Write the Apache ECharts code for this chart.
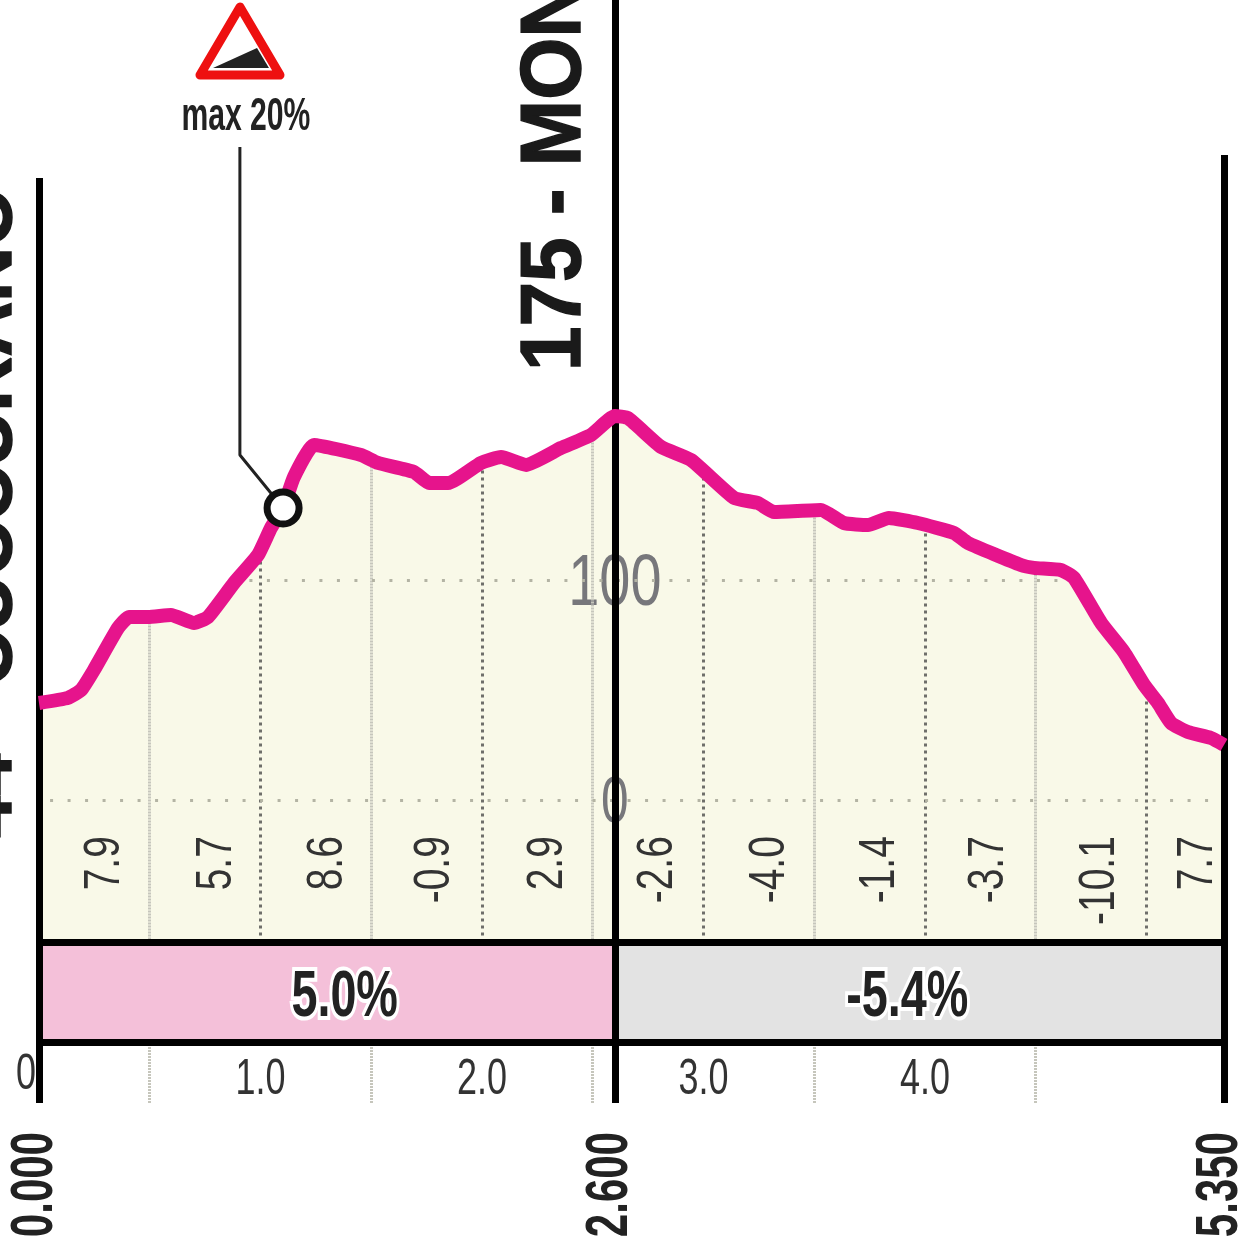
<!DOCTYPE html>
<html>
<head>
<meta charset="utf-8">
<style>
  html, body { margin: 0; background: #fff; }
  #main { width: 1243px; height: 1250px; }
</style>
<script src="https://cdn.jsdelivr.net/npm/echarts@6/dist/echarts.min.js"></script>
</head>
<body>
<div id="main"></div>
<script>
// profile (km, metres)
var profileKm = [0, 0.131, 0.19, 0.248, 0.357, 0.406, 0.492, 0.596, 0.7, 0.763, 0.88, 0.989, 1.047, 1.102, 1.151, 1.242, 1.454, 1.53, 1.693, 1.761, 1.847, 1.995, 2.086, 2.199, 2.357, 2.492, 2.6, 2.659, 2.808, 2.944, 3.138, 3.246, 3.318, 3.53, 3.634, 3.743, 3.837, 3.968, 4.131, 4.194, 4.433, 4.492, 4.614, 4.673, 4.795, 4.898, 4.989, 5.052, 5.111, 5.187, 5.291, 5.35];
var profileElev = [44.1, 46.4, 50, 59.1, 78.2, 83.2, 83.2, 84.1, 80.5, 83.2, 98.6, 111.4, 123.6, 132.7, 146.8, 161.4, 156.8, 153.2, 149.1, 144.1, 144.1, 153.2, 155.9, 152.3, 160, 165.9, 174.5, 173.6, 160.5, 154.5, 137.3, 135, 130.9, 131.8, 125.9, 125, 128.2, 125.9, 121.4, 116.8, 106.8, 105.5, 104.5, 100.9, 80.5, 67.3, 52.3, 44.1, 35, 30.9, 28.2, 25];

// gradient of each stretch, and where its label sits
var gradientKm = [0.289, 0.795, 1.296, 1.779, 2.289, 2.786, 3.291, 3.788, 4.28, 4.781, 5.224];
var gradientText = ["7.9", "5.7", "8.6", "-0.9", "2.9", "-2.6", "-4.0", "-1.4", "-3.7", "-10.1", "7.7"];

// average gradient bands
var bandFrom = [0, 2.6];
var bandTo = [2.6, 5.35];
var bandText = ["5.0%", "-5.4%"];
var bandLabelKm = [1.38, 3.92];
var bandColors = ["#f4c0d9", "#e3e3e3"];

// km ruler
var kmLabels = [1, 2, 3, 4];
var kmHalf = [0.5, 1.5, 2.5, 3.5, 4.5];
var kmWhole = [1, 2, 3, 4, 5];
var waypointKm = [0, 2.6, 5.35];
var waypointText = ["0.000", "2.600", "5.350"];
var waypointTop = [282.7, 363.6, 293.2];

// steepest point
var maxKm = [0.907, 0.907, 1.102];
var maxElev = [296.8, 156.8, 132.7];

var Y_TOP = 363.6;
var Y_MIN = -137.7;
var Y_BASE = -64.8;
var Y_BAND = -110;

function pairs(xs, ys) {
  return xs.map(function (x, i) { return [x, ys[i]]; });
}
function elevAt(km) {
  for (var i = 1; i < profileKm.length; i++) {
    if (km <= profileKm[i]) {
      var t = (km - profileKm[i - 1]) / (profileKm[i] - profileKm[i - 1]);
      return profileElev[i - 1] + t * (profileElev[i] - profileElev[i - 1]);
    }
  }
  return profileElev[profileElev.length - 1];
}
// condensed text placed in chart coordinates, no narrow font is installed
function textSeries(points, z) {
  return {
    type: "custom", silent: true, clip: false, z: z,
    data: points.map(function (p) { return p.at; }),
    renderItem: function (params, api) {
      var p = points[params.dataIndex];
      var xy = api.coord(p.at);
      return {
        type: "text",
        x: xy[0] + (p.dx || 0), y: xy[1],
        rotation: p.up ? Math.PI / 2 : 0,
        scaleX: p.sx,
        style: {
          text: p.text,
          font: (p.bold ? "bold " : "") + p.size + 'px "Liberation Sans"',
          fill: p.color || "#333",
          textAlign: p.up ? "right" : "center",
          textVerticalAlign: "middle",
          stroke: p.halo ? "#fff" : null,
          lineWidth: p.halo ? 8 : 0
        }
      };
    }
  };
}
function vline(km, from, to, style) {
  return [{ coord: [km, from], lineStyle: style }, { coord: [km, to] }];
}

var lightDots = { color: "#c6c6bc", width: 3, type: [2, 1] };
var heavyDots = { color: "#6f6f6a", width: 3, type: [3, 4] };
var levelDots = { color: "#b4b4a4", width: 3, type: [3, 14.5] };

var gridLines = [];
kmHalf.forEach(function (km) { gridLines.push(vline(km, Y_BASE, elevAt(km) - 3, lightDots)); });
kmWhole.forEach(function (km) { gridLines.push(vline(km, Y_BASE, elevAt(km) - 3, heavyDots)); });
gridLines.push([{ coord: [0.05, 0], lineStyle: levelDots }, { coord: [5.33, 0] }]);
gridLines.push([{ coord: [0.95, 100], lineStyle: levelDots }, { coord: [4.62, 100] }]);

var blackLines = [];
var blackStyle = { color: "#000", width: 7, type: "solid" };
waypointKm.forEach(function (km, i) { blackLines.push(vline(km, Y_MIN, waypointTop[i], blackStyle)); });
[Y_BASE, Y_BAND].forEach(function (y) {
  blackLines.push([{ coord: [0, y], lineStyle: { color: "#000", width: 7, type: "solid" } }, { coord: [5.35, y] }]);
});

var option = {
  animation: false,
  backgroundColor: "#fff",
  grid: { left: 39, right: 19, top: 0, height: 1103 },
  xAxis: {
    type: "value", min: 0, max: 5.35, interval: 0.5,
    splitLine: { show: false },
    axisLine: { show: false, onZero: false },
    axisLabel: { show: false },
    axisTick: { show: true, inside: true, length: 62, customValues: kmHalf, lineStyle: { color: "#c6c6bc", width: 3, type: [2, 1] } }
  },
  yAxis: { type: "value", min: Y_MIN, max: Y_TOP, show: false, splitLine: { show: false } },
  graphic: [
    { type: "polygon", z: 20, shape: { points: [[240, 7], [280, 75], [200, 75]] }, style: { fill: "#fff", stroke: "#ee1010", lineWidth: 9, lineJoin: "round" } },
    { type: "polygon", z: 21, shape: { points: [[213, 68], [257, 48], [269, 68]] }, style: { fill: "#222" } },
    { type: "text", z: 20, x: 556, y: 371, rotation: Math.PI / 2, scaleX: 0.93, style: { text: "175 - MON", fill: "#1a1a1a", stroke: "#1a1a1a", lineWidth: 1.5, font: "bold 86px 'Liberation Sans'", textAlign: "left", textVerticalAlign: "middle" } },
    { type: "text", z: 20, x: -10, y: 838, rotation: Math.PI / 2, style: { text: "44 - CUCCURANO", fill: "#1a1a1a", stroke: "#1a1a1a", lineWidth: 1.5, font: "bold 76px 'Liberation Sans'", textAlign: "left", textVerticalAlign: "middle" } }
  ],
  series: [
    // filled ground under the road
    {
      type: "line", data: pairs(profileKm, profileElev), symbol: "none", silent: true, z: 1,
      lineStyle: { width: 0 },
      areaStyle: { color: "#f9f9e8", opacity: 1, origin: Y_BASE },
      markArea: {
        silent: true,
        data: bandFrom.map(function (from, i) {
          return [{ coord: [from, Y_BAND], itemStyle: { color: bandColors[i], opacity: 1 } }, { coord: [bandTo[i], Y_BASE] }];
        })
      }
    },
    // dotted km and level lines
    {
      type: "line", data: [], silent: true, z: 2,
      markLine: { silent: true, symbol: "none", label: { show: false }, data: gridLines }
    },
    textSeries([
      { at: [2.6, 97.5], text: "100", size: 72, sx: 0.775, color: "#77777b" },
      { at: [2.6, -2], text: "0", size: 64, sx: 0.775, color: "#77777b" }
    ], 3),
    // black frame
    {
      type: "line", data: [], silent: true, z: 4,
      markLine: { silent: true, symbol: "none", label: { show: false }, data: blackLines }
    },
    textSeries(gradientKm.map(function (km, i) {
      return { at: [km, -16.4], text: gradientText[i], size: 50, sx: 0.78, up: true, dx: 2 };
    }), 5),
    textSeries(bandLabelKm.map(function (km, i) {
      return { at: [km, -90], text: bandText[i], size: 64, sx: 0.73, bold: true, color: "#222", halo: true };
    }), 5),
    textSeries(kmLabels.map(function (km) {
      return { at: [km, -127.3], text: km.toFixed(1), size: 50, sx: 0.72 };
    }).concat([{ at: [-0.059, -125], text: "0", size: 50, sx: 0.72 }]), 3),
    textSeries(waypointKm.map(function (km, i) {
      return { at: [km, -150.9], text: waypointText[i], size: 60, sx: 0.7, bold: true, color: "#222", up: true, dx: -4 };
    }), 5),
    textSeries([{ at: [0.934, 310.5], text: "max 20%", size: 46, sx: 0.655, bold: true, color: "#222" }], 5),
    // the road
    {
      type: "line", data: pairs(profileKm, profileElev), symbol: "none", silent: true, z: 6, clip: false,
      smooth: 0.15,
      lineStyle: { color: "#e6148c", width: 14, join: "round" }
    },
    // leader to the steepest point
    {
      type: "line", data: pairs(maxKm, maxElev), symbol: "none", silent: true, z: 7,
      lineStyle: { color: "#222", width: 3 }
    },
    {
      type: "scatter", data: [[maxKm[2], maxElev[2]]], silent: true, z: 8,
      symbolSize: 32,
      itemStyle: { color: "#fff", borderColor: "#111", borderWidth: 7, opacity: 1 }
    }
  ]
};

var chart = echarts.init(document.getElementById("main"));
chart.setOption(option);
</script>
</body>
</html>
